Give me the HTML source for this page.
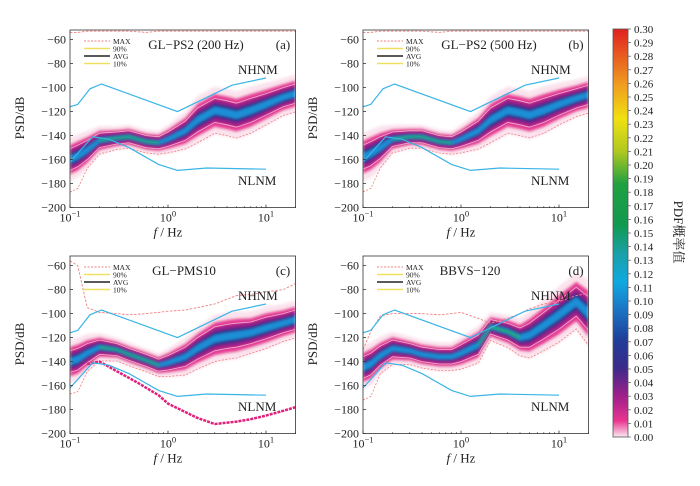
<!DOCTYPE html>
<html><head><meta charset="utf-8">
<style>
body{margin:0;background:#fff;}
svg text{font-family:"Liberation Serif","Noto Serif CJK SC",serif;fill:#222;}
</style></head>
<body>
<svg id="c" width="700" height="481" viewBox="0 0 700 481" xmlns="http://www.w3.org/2000/svg">
<defs>
<linearGradient id="cbg" x1="0" y1="1" x2="0" y2="0">
<stop offset="0" stop-color="#fbe9f1"/>
<stop offset="0.04" stop-color="#e8358f"/>
<stop offset="0.1" stop-color="#a0208a"/>
<stop offset="0.17" stop-color="#3a2a8a"/>
<stop offset="0.24" stop-color="#1f3f9a"/>
<stop offset="0.32" stop-color="#1a7ac8"/>
<stop offset="0.38" stop-color="#10a8e0"/>
<stop offset="0.45" stop-color="#1aa0a8"/>
<stop offset="0.52" stop-color="#109a50"/>
<stop offset="0.62" stop-color="#20a040"/>
<stop offset="0.7" stop-color="#b0c820"/>
<stop offset="0.78" stop-color="#f0e010"/>
<stop offset="0.86" stop-color="#f0a020"/>
<stop offset="1" stop-color="#e02020"/>
</linearGradient>
<filter id="bl"><feGaussianBlur stdDeviation="1.3"/></filter>
</defs>
</svg>
<script>
// shared frequency grid (Hz)
const freqs = [0.1,0.12,0.15,0.2,0.3,0.4,0.6,0.8,1,1.5,2,3,4,5,7,10,15,20];
// mode (most probable PSD, dB) per panel
const modeA = [-160,-157,-152,-144,-142,-141,-145,-146,-143,-136,-127,-119,-121,-123,-119,-114,-108,-105];
const modeB = [-158,-155,-150,-143,-141,-141,-145,-146,-143,-136,-127,-119,-121,-123,-119,-114,-109,-106];
const modeC = [-140,-138,-133,-128,-130,-134,-139,-143,-141,-136,-129,-121,-119,-118,-116,-112,-108,-105];
const modeD = [-145,-142,-135,-129,-131,-134,-136,-136,-133,-126,-111,-115,-120,-118,-110,-101,-90,-100];
// half spread (dB)
const spreadA = [9,9,8,6,5,5,5,5,6,8,10,10,10,10,10,9,8,8];
const spreadB = [10,10,9,6,5,5,5,5,6,8,10,10,10,10,10,9,8,8];
const spreadC = [9,9,8,6,5,5,5,5,6,8,9,10,10,10,9,9,8,8];
const spreadD = [9,9,8,7,6,6,6,6,7,8,6,7,8,10,11,12,12,14];
// MAX curves
const maxA = [-54,-54,-53,-53,-53,-53,-54,-53,-53,-53,-53,-53,-53,-53,-53,-53,-53,-53];
const maxB = [-54,-54,-53,-53,-53,-53,-54,-53,-53,-53,-53,-53,-53,-53,-53,-53,-53,-53];
const maxC = [-56,-60,-95,-99,-100,-101,-100,-99,-98,-97,-95,-92,-88,-85,-84,-82,-80,-75];
const maxD = [-130,-115,-102,-100,-100,-100,-101,-100,-99,-104,-108,-104,-100,-96,-92,-90,-85,-83];
// NHNM / NLNM
const nhnmF = [0.1,0.12,0.16,0.21,1.25,4.5,10];
const nhnmV = [-116,-114,-101,-97,-120,-98,-92];
const nlnmF = [0.1,0.17,0.25,0.4,0.8,1.25,2.5,10];
const nlnmV = [-162,-141,-143,-150,-164,-169,-167,-168];
// panel C lower step line
const lowF = [0.15,0.2,0.3,0.5,0.8,1,1.5,2,3,5,7,10,15,20];
const lowV = [-142,-140,-148,-158,-168,-175,-182,-187,-192,-190,-188,-185,-181,-178];
const yTicks = [-60,-80,-100,-120,-140,-160,-180,-200];
const cbTicks = Array.from({length:31},(_,i)=>(i/100).toFixed(2));

const NS="http://www.w3.org/2000/svg";
const svg=document.getElementById('c');
function mk(t,a,p){const e=document.createElementNS(NS,t);for(const k in a)e.setAttribute(k,a[k]);(p||svg).appendChild(e);return e;}

const panels=[
 {ox:70,oy:30,mode:modeA,sp:spreadA,mx:maxA,title:'GL−PS2 (200 Hz)',lab:'(a)',tx:196},
 {ox:363,oy:30,mode:modeB,sp:spreadB,mx:maxB,title:'GL−PS2 (500 Hz)',lab:'(b)',tx:489},
 {ox:70,oy:256,mode:modeC,sp:spreadC,mx:maxC,title:'GL−PMS10',lab:'(c)',tx:184,low:true},
 {ox:363,oy:256,mode:modeD,sp:spreadD,mx:maxD,title:'BBVS−120',lab:'(d)',tx:470}
];
const bandF=[2.0,1.4,0.95,0.6,0.32,0.15];
const bandC=['#fbe0ec','#e8409a','#9a1f88','#2a2e8e','#1a8fd6','#22b04a'];

panels.forEach((P,pi)=>{
 const g=mk('g',{});
 
 
 const X=f=>P.ox+98*(Math.log10(f)+1);
 const Y=v=>P.oy+(-52-v)*1.2;
 const W=X(20)-X(0.1), H=Y(-200)-Y(-52);
 const cl='clip'+pi;
 const cp=mk('clipPath',{id:cl},svg.querySelector('defs'));
 mk('rect',{x:P.ox,y:P.oy,width:W,height:H},cp);
 const inner=mk('g',{'clip-path':'url(#'+cl+')'},g);
 const bands=mk('g',{filter:'url(#bl)'},inner);
 
 
 bandF.forEach((k,bi)=>{
  let d='';
  freqs.forEach((f,i)=>{d+=(i?'L':'M')+X(f).toFixed(1)+','+Y(P.mode[i]+P.sp[i]*k).toFixed(1);});
  for(let i=freqs.length-1;i>=0;i--)d+='L'+X(freqs[i]).toFixed(1)+','+Y(P.mode[i]-P.sp[i]*k).toFixed(1);
  let dd=d;
  if(bi===5){
   dd='';
   const sel=freqs.map((f,i)=>i).filter(i=>pi===3?(freqs[i]>=1.5&&freqs[i]<=4):(freqs[i]>=0.2&&freqs[i]<=0.8));
   sel.forEach((i,j)=>{dd+=(j?'L':'M')+X(freqs[i])+','+Y(P.mode[i]+P.sp[i]*k);});
   sel.slice().reverse().forEach(i=>{dd+='L'+X(freqs[i])+','+Y(P.mode[i]-P.sp[i]*k);});
  }
  const b=mk('path',{d:dd+'Z',fill:bandC[bi],opacity:bi===0?0.9:1},bands);
  
  
 });
 [1.0,-1.0].forEach(k=>{
  let d='';freqs.forEach((f,i)=>{d+=(i?'L':'M')+X(f)+','+Y(P.mode[i]+P.sp[i]*k);});
  const l=mk('path',{d,fill:'none',stroke:'#f0b0c8','stroke-width':0.8},inner);
  
  
 });
 let dl='';freqs.forEach((f,i)=>{dl+=(i?'L':'M')+X(f)+','+Y(P.mode[i]-P.sp[i]*1.9-(i<2?10:0));});
 const le=mk('path',{d:dl,fill:'none',stroke:'#f08080','stroke-width':0.8,'stroke-dasharray':'2,1.5'},inner);
 
 
 let dm='';freqs.forEach((f,i)=>{dm+=(i?'L':'M')+X(f)+','+Y(P.mx[i]);});
 const ml=mk('path',{d:dm,fill:'none',stroke:'#f08080','stroke-width':0.9,'stroke-dasharray':'2.5,1.5'},inner);
 
 
 if(P.low){
  let ds='';lowF.forEach((f,i)=>{ds+=(i?'L':'M')+X(f)+','+Y(lowV[i]);});
  const sl=mk('path',{d:ds,fill:'none',stroke:'#e0207a','stroke-width':2.5,'stroke-dasharray':'3,1'},inner);
  
  
 }
 [[nhnmF,nhnmV,'nhnm-line'],[nlnmF,nlnmV,'nlnm-line']].forEach(([F,V,n])=>{
  let d='';F.forEach((f,i)=>{d+=(i?'L':'M')+X(f)+','+Y(V[i]);});
  const l=mk('path',{d,fill:'none',stroke:'#3ab4e6','stroke-width':1.2},inner);
  
  
 });
 const fr=mk('rect',{x:P.ox,y:P.oy,width:W,height:H,fill:'none',stroke:'#333','stroke-width':0.8},g);
 
 
 yTicks.forEach(v=>{
  mk('line',{x1:P.ox,x2:P.ox+3,y1:Y(v),y2:Y(v),stroke:'#333','stroke-width':0.8},g);
  const t=mk('text',{x:P.ox-4,y:Y(v)+4,'text-anchor':'end','font-size':12},g);
  t.textContent='−'+(-v);
  
  
 });
 [-1,0,1].forEach(e=>{
  const x=X(Math.pow(10,e));
  mk('line',{x1:x,x2:x,y1:P.oy+H,y2:P.oy+H-3,stroke:'#333','stroke-width':0.8},g);
  const t=mk('text',{x:x,y:P.oy+H+14,'text-anchor':'middle','font-size':12},g);
  t.innerHTML='10<tspan dy="-5" font-size="8.5">'+(e<0?'−1':e)+'</tspan>';
  
  
 });
 for(let e=-1;e<=1;e++)for(let m=2;m<=9;m++){const f=m*Math.pow(10,e);if(f>20)break;const x=X(f);
  mk('line',{x1:x,x2:x,y1:P.oy+H,y2:P.oy+H-1.5,stroke:'#333','stroke-width':0.6},g);}
 const xt=mk('text',{x:P.ox+98,y:P.oy+H+29,'text-anchor':'middle','font-size':13},g);
 xt.innerHTML='<tspan font-style="italic">f</tspan> / Hz';
 
 
 const yt=mk('text',{x:0,y:0,'text-anchor':'middle','font-size':13,transform:`translate(${P.ox-46},${P.oy+88}) rotate(-90)`},g);
 yt.textContent='PSD/dB';
 
 
 const tt=mk('text',{x:P.tx,y:P.oy+19,'text-anchor':'middle','font-size':13},g);
 tt.textContent=P.title;
 
 
 const lb=mk('text',{x:P.ox+213,y:P.oy+19,'text-anchor':'middle','font-size':13},g);
 lb.textContent=P.lab;
 
 
 [['MAX','#f08080','2,1.5'],['90%','#f0e060',''],['AVG','#222',''],['10%','#f0e060','']].forEach((L,i)=>{
  const y=P.oy+11+i*7.5;
  const ln=mk('line',{x1:P.ox+14,x2:P.ox+40,y1:y,y2:y,stroke:L[1],'stroke-width':L[0]==='MAX'?1:1.6,'stroke-dasharray':L[2]},g);
  
  
  const t=mk('text',{x:P.ox+43,y:y+3,'font-size':7.5},g);
  t.textContent=L[0];
  
  
 });
 const nh=mk('text',{x:P.ox+168,y:P.oy+44,'font-size':13},g);nh.textContent='NHNM';
 
 
 const nl=mk('text',{x:P.ox+168,y:P.oy+155,'font-size':13},g);nl.textContent='NLNM';
 
 
});

const cb=mk('g',{});


const cy0=29,cy1=437;
mk('rect',{x:613,y:cy0,width:15,height:cy1-cy0,fill:'url(#cbg)',stroke:'#555','stroke-width':0.8},cb);
cbTicks.forEach((lab,i)=>{
 const y=cy1-(cy1-cy0)*i/30;
 mk('line',{x1:628,x2:631,y1:y,y2:y,stroke:'#555','stroke-width':0.7},cb);
 const t=mk('text',{x:634,y:y+4,'font-size':11},cb);
 t.textContent=lab;
 
 
});
const ct=mk('text',{x:0,y:0,'text-anchor':'middle','font-size':13,transform:'translate(674,232) rotate(90)'},cb);
ct.textContent='PDF概率值';


</script>
</body></html>
